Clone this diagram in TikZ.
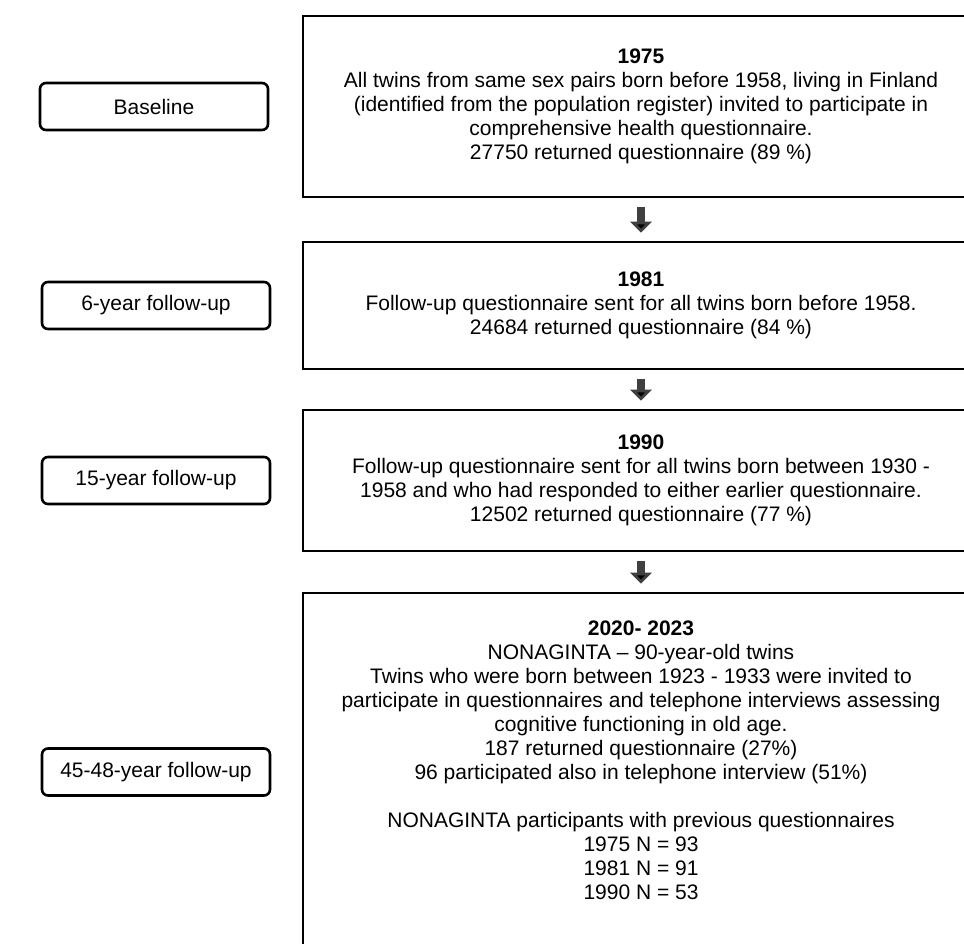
\documentclass[tikz,border=0pt]{standalone}
\usepackage{fontspec}
\setmainfont{Liberation Sans}
\usetikzlibrary{positioning,arrows.meta}
\definecolor{arrowgray}{HTML}{404040}

\begin{document}
\begin{tikzpicture}[x=1pt,y=-1pt,font=\fontsize{21}{24}\selectfont,
	main box/.style = {rectangle,draw,line width=2.6pt,minimum width=676pt,align=center,inner sep=0pt},
	stage box/.style = {rectangle,draw,rounded corners=6pt,line width=2.6pt,minimum width=228pt,minimum height=47pt},
	flow arrow/.style = {-{Triangle[width=21pt,length=11pt]},line width=8.5pt,draw=arrowgray,shorten <=9pt,shorten >=8pt}]
	
	\useasboundingbox (0,0) rectangle (964,944);
	\clip (0,0) rectangle (964,944);
	
	\node[main box,minimum height=181pt] at (641,106.5) (box1) {\textbf{1975}\\
		All twins from same sex pairs born before 1958, living in Finland\\
		(identified from the population register) invited to participate in\\
		comprehensive health questionnaire.\\
		27750 returned questionnaire (89 \%)};
	\node[main box,minimum height=127pt] [below=42.4pt of box1](box2) {\textbf{1981}\\
		Follow-up questionnaire sent for all twins born before 1958.\\
		24684 returned questionnaire (84 \%)};
	\node[main box,minimum height=141pt] [below=38.4pt of box2](box3) {\textbf{1990}\\
		Follow-up questionnaire sent for all twins born between 1930 -\\
		1958 and who had responded to either earlier questionnaire.\\
		12502 returned questionnaire (77 \%)};
	\node[main box,minimum height=358pt] [below=39.4pt of box3](box4) {\textbf{2020- 2023}\\
		NONAGINTA – 90-year-old twins\\
		Twins who were born between 1923 - 1933 were invited to\\
		participate in questionnaires and telephone interviews assessing\\
		cognitive functioning in old age.\\
		187 returned questionnaire (27\%)\\
		96 participated also in telephone interview (51\%)\\[24pt]
		NONAGINTA participants with previous questionnaires\\
		1975 N = 93\\
		1981 N = 91\\
		1990 N = 53\\[0pt]};
	
	\node[stage box] at (154,0 |- box1) (s1) {Baseline};
	\node[stage box] at (156,0 |- box2) (s2) {6-year follow-up};
	\node[stage box] at (156,0 |- box3) (s3) {15-year follow-up};
	\node[stage box] at (156,0 |- box4) (s4) {45-48-year follow-up};
	
	\path[flow arrow]
	(box1) edge (box2)
	(box2) edge (box3)
	(box3) edge (box4);
\end{tikzpicture}
\end{document}
